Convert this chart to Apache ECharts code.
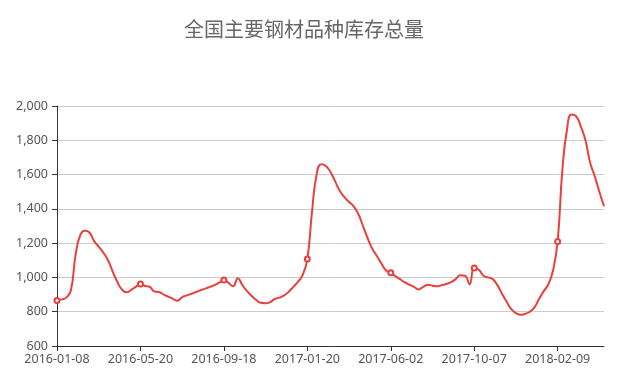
<!DOCTYPE html>
<html>
<head>
<meta charset="utf-8">
<script src="https://cdn.jsdelivr.net/npm/echarts@6/dist/echarts.min.js"></script>
<style>html,body{margin:0;padding:0;background:#fff;}#c{width:623px;height:375px;}</style>
</head>
<body>
<div id="c"></div>
<script>
const titleText = '全国主要钢材品种库存总量';
const dates = [
'2016-01-08','2016-01-15','2016-01-22','2016-01-29','2016-02-05','2016-02-19','2016-02-26','2016-03-04','2016-03-11','2016-03-18',
'2016-03-25','2016-04-01','2016-04-08','2016-04-15','2016-04-22','2016-04-29','2016-05-06','2016-05-13','2016-05-20','2016-05-27',
'2016-06-03','2016-06-08','2016-06-17','2016-06-24','2016-07-01','2016-07-08','2016-07-15','2016-07-22','2016-07-29','2016-08-05',
'2016-08-12','2016-08-19','2016-08-26','2016-09-02','2016-09-09','2016-09-14','2016-09-18','2016-09-23','2016-09-30','2016-10-08',
'2016-10-14','2016-10-21','2016-10-28','2016-11-04','2016-11-11','2016-11-18','2016-11-25','2016-12-02','2016-12-09','2016-12-16',
'2016-12-23','2016-12-30','2017-01-06','2017-01-13','2017-01-20','2017-02-03','2017-02-10','2017-02-17','2017-02-24','2017-03-03',
'2017-03-10','2017-03-17','2017-03-24','2017-03-31','2017-04-07','2017-04-14','2017-04-21','2017-04-28','2017-05-05','2017-05-12',
'2017-05-19','2017-05-26','2017-06-02','2017-06-09','2017-06-16','2017-06-23','2017-06-30','2017-07-07','2017-07-14','2017-07-21',
'2017-07-28','2017-08-04','2017-08-11','2017-08-18','2017-08-25','2017-09-01','2017-09-08','2017-09-15','2017-09-22','2017-09-29',
'2017-10-07','2017-10-13','2017-10-20','2017-10-27','2017-11-03','2017-11-10','2017-11-17','2017-11-24','2017-12-01','2017-12-08',
'2017-12-15','2017-12-22','2017-12-29','2018-01-05','2018-01-12','2018-01-19','2018-01-26','2018-02-02','2018-02-09','2018-02-23',
'2018-03-02','2018-03-09','2018-03-16','2018-03-23','2018-03-30','2018-04-04','2018-04-13','2018-04-20','2018-04-27'
];
const inventory = [
866,872,882,925,1130,1245,1272,1262,1212,1180,
1145,1100,1035,975,930,913,928,945,962,950,
945,918,915,900,888,875,864,885,895,905,
915,925,935,945,955,970,985,968,948,995,
955,920,892,868,852,849,856,875,882,895,
917,945,975,1015,1107,1380,1600,1660,1650,1615,
1560,1505,1468,1440,1415,1370,1300,1230,1168,1125,
1080,1040,1027,1008,990,972,958,945,930,945,
958,952,948,955,962,972,990,1012,1010,960,
1055,1045,1010,1000,990,955,905,858,815,792,
782,788,800,825,875,920,960,1040,1210,1620,
1860,1950,1940,1880,1800,1670,1590,1500,1415
];
const yMin = 600, yMax = 2000, yStep = 200;

const chart = echarts.init(document.getElementById('c'), null, {renderer:'canvas'});
chart.setOption({
  animation: false,
  backgroundColor: '#fff',
  title: {
    text: titleText,
    left: 179, top: 14,
    textStyle: {fontFamily: 'Noto Sans CJK SC', fontSize: 20, fontWeight: 'normal', color: '#666'}
  },
  grid: {left: 57, right: 19, top: 106, bottom: 29, containLabel: false},
  xAxis: {
    type: 'category',
    data: dates,
    boundaryGap: false,
    axisLine: {lineStyle: {color: '#333', width: 1}},
    axisTick: {interval: 17, length: 5, lineStyle: {color: '#333'}},
    axisLabel: {interval: 17, margin: 7, color: '#555', fontSize: 12.5, fontFamily: 'Noto Sans'},
    splitLine: {show: false}
  },
  yAxis: {
    type: 'value',
    min: yMin, max: yMax, interval: yStep,
    axisLine: {show: true, lineStyle: {color: '#333', width: 1}},
    axisTick: {show: true, length: 5, lineStyle: {color: '#333'}},
    axisLabel: {margin: 9, color: '#555', fontSize: 12.5, fontFamily: 'Noto Sans'},
    splitLine: {lineStyle: {color: '#ccc', width: 1}}
  },
  series: [{
    type: 'line',
    data: inventory,
    smooth: true,
    symbol: 'emptyCircle',
    symbolSize: 5,
    showAllSymbol: 'auto',
    lineStyle: {color: '#e8403c', width: 2},
    itemStyle: {color: '#e8403c', borderWidth: 1}
  }]
});
</script>
</body>
</html>
